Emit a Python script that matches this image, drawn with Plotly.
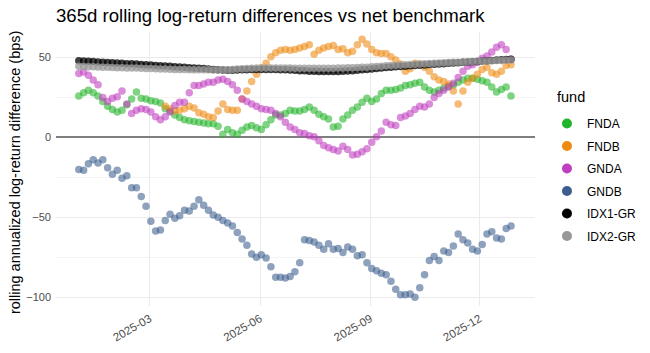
import plotly.graph_objects as go
import pandas as pd

# observation dates (every 4 days through 2025)
dates = pd.date_range("2025-01-01", periods=91, freq="4D")

funds = ["FNDA", "FNDB", "GNDA", "GNDB", "IDX1-GR", "IDX2-GR"]
colors = ["#22B42A", "#EE8A12", "#C03DBF", "#3C5E8E", "#000000", "#999999"]

FNDA = [26, 28, 29.5, 28, 26, 22.5, 19.5, 17.5, 16, 17,
        20.5, 24, 28.5, 24.5, 24, 23, 22.5, 21.5, 18, 16.5,
        14, 12.5, 11, 10.5, 10, 9.5, 9, 8.5, 8.5, 7,
        2, 5, 3, 2, 4.5, 6.5, 7.5, 6, 5, 8,
        11, 14, 14, 15, 17, 16.5, 16.5, 17.5, 19, 17,
        14.5, 13, 11.5, 6.5, 7, 11.5, 14, 17, 19, 22,
        24.5, 22.5, 24, 27.5, 29.5, 29.5, 30, 31, 32.5, 33,
        34, 34.5, 31.5, 29.5, 28.5, 29.5, 31, 32, 32.8, 34.5,
        36, 37, 37, 36.5, 35.5, 34.5, 31.5, 28.5, 30, 31.5,
        26]

FNDB = [None] * 18 + [
        19.5, 18, 16.5, 17, 18, 19.5, 18.5, 15.5, 14.5, 13,
        12.5, 16.5, 21, 17.5, 17, 17, 24, 29, 35, 39.5,
        43.5, 46.5, 50.5, 53, 54.5, 55, 54.5, 55, 56, 57,
        58, 52, 54.5, 56, 57, 57.5, 55, 55.5, 53, 54,
        58, 61.5, 58.5, 55, 53, 52.5, 52.5, 50.5, 48.5, 46,
        41.5, 43, 46.5, 46, 44, 41.5, 38, 36, 35, 33.5,
        29, 21, 29, 34.5, 37, 39.5, 42.5, 44, 40.5, 39.5,
        41.5, 45, 45.5]

GNDA = [40, 41, 39, 36, 33, 25, 22.5, 24.5, 25.5, 29,
        21, 15, 17, 18, 17.5, 16, 13, 11, 13, 16,
        20, 22, 22, 28, 32.5, 32.5, 33.5, 34.5, 34.5, 36,
        36.5, 35, 33, 29.5, 24, 22.5, 21, 19.5, 18, 17.5,
        17, 15, 13, 9.5, 6.5, 5, 3, 2.5, 1, 0.5,
        -2, -5, -6.5, -7.5, -8.5, -5.5, -7.5, -11, -10.5, -9,
        -7, -3, 0.5, 4, 9.5, 8, 7.5, 12.5, 13.5, 15,
        17.5, 19.5, 19, 21, 25, 27.5, 29.5, 31.5, 34, 37.5,
        41.5, 44.5, 45.5, 47, 49.5, 51, 53.5, 56.5, 58, 55,
        49]

GNDB = [-20, -20.5, -16.5, -14, -16, -14, -19, -23, -20.5, -25.5,
        -24, -31.5, -31.5, -37, -43, -52.5, -58.5, -58, -52, -48,
        -50.5, -49, -45.5, -46, -43, -39, -42.5, -45.5, -48.5, -50,
        -52, -53.5, -55.5, -59.5, -63.5, -67.5, -73, -75, -73.5, -75.5,
        -81, -87.5, -87.5, -88, -87, -84, -78.5, -64, -64.5, -65.5,
        -67.5, -70, -66.5, -70, -69.5, -72, -68.5, -70, -74, -73.5,
        -78.5, -82, -83.5, -85, -86, -90, -95, -98.5, -98.5, -98,
        -100, -94, -86, -77, -74.5, -77, -71, -72, -68, -60.5,
        -64, -66, -70, -71, -67, -60.5, -59, -63, -63.5, -57,
        -55.5]

IDX1 = [48, 47.8, 47.7, 47.5, 47.3, 47.1, 46.9, 46.8, 46.6, 46.4,
        46.2, 46.1, 45.9, 45.7, 45.5, 45.3, 45.1, 44.9, 44.7, 44.5,
        44.3, 44.1, 43.9, 43.7, 43.5, 43.3, 43.1, 42.8, 42.6, 42.4,
        42.2, 42.1, 42.1, 42.2, 42.3, 42.4, 42.5, 42.6, 42.6, 42.6,
        42.6, 42.5, 42.4, 42.3, 42.2, 42.0, 41.8, 41.7, 41.5, 41.4,
        41.3, 41.3, 41.2, 41.3, 41.3, 41.4, 41.6, 41.8, 42.0, 42.3,
        42.6, 42.9, 43.2, 43.5, 43.8, 44.0, 44.2, 44.4, 44.6, 44.8,
        45.0, 45.2, 45.4, 45.6, 45.8, 46.0, 46.2, 46.4, 46.6, 46.8,
        47.0, 47.2, 47.4, 47.6, 47.8, 48.0, 48.2, 48.4, 48.6, 48.8,
        49.0]

IDX2 = [44.5, 44.4, 44.3, 44.2, 44.1, 44.0, 43.9, 43.8, 43.7, 43.6,
        43.5, 43.5, 43.4, 43.3, 43.2, 43.1, 43.0, 42.9, 42.8, 42.7,
        42.6, 42.5, 42.5, 42.4, 42.4, 42.3, 42.3, 42.3, 42.2, 42.2,
        42.3, 42.4, 42.6, 42.8, 43.0, 43.2, 43.3, 43.4, 43.5, 43.5,
        43.5, 43.5, 43.5, 43.4, 43.4, 43.3, 43.3, 43.3, 43.3, 43.3,
        43.3, 43.3, 43.3, 43.3, 43.4, 43.5, 43.6, 43.7, 43.8, 43.9,
        44.0, 44.2, 44.4, 44.6, 44.8, 45.0, 45.2, 45.3, 45.5, 45.6,
        45.8, 46.0, 46.1, 46.3, 46.4, 46.6, 46.7, 46.9, 47.0, 47.1,
        47.3, 47.4, 47.5, 47.7, 47.8, 47.9, 48.0, 48.1, 48.2, 48.3,
        48.4]

series = [FNDA, FNDB, GNDA, GNDB, IDX1, IDX2]
alphas = [0.58, 0.58, 0.58, 0.58, 0.75, 0.75]

FONT = "Liberation Sans, Arial, sans-serif"

fig = go.Figure()
for name, col, vals, a in zip(funds, colors, series, alphas):
    fig.add_trace(go.Scatter(
        x=dates, y=vals, mode="markers", name=name, legendgroup=name,
        showlegend=False,
        marker=dict(color=col, size=7.5, opacity=a, line=dict(width=0)),
    ))
for name, col in zip(funds, colors):
    fig.add_trace(go.Scatter(
        x=[None], y=[None], mode="markers", name=name, legendgroup=name,
        showlegend=True,
        marker=dict(color=col, size=10, opacity=1, line=dict(width=0)),
    ))

fig.update_layout(
    width=650, height=353,
    margin=dict(l=56, r=115, t=32, b=47, autoexpand=False),
    paper_bgcolor="white", plot_bgcolor="white",
    font=dict(family=FONT, color="#000000"),
    title=dict(text="365d rolling log-return differences vs net benchmark",
               x=0, xref="paper", xanchor="left",
               y=1 - 15 / 353, yref="container", yanchor="middle",
               font=dict(size=18.6, color="#000000")),
    showlegend=True,
    legend=dict(x=1.025, xanchor="left", y=0.719, yanchor="top",
                font=dict(size=12, color="#000000"),
                tracegroupgap=3.5, itemsizing="trace",
                bgcolor="rgba(0,0,0,0)"),
    annotations=[
        dict(text="rolling annualized log-return difference (bps)",
             xref="paper", yref="paper", x=(15 - 56) / 479, y=0.485,
             textangle=-90, showarrow=False,
             font=dict(size=14.5, color="#000000"),
             xanchor="center", yanchor="middle"),
        dict(text="fund", xref="paper", yref="paper",
             x=(555 - 56) / 479, y=(306 - 97) / 274,
             xanchor="left", yanchor="middle", showarrow=False,
             font=dict(size=14.5, color="#000000")),
    ],
)

fig.update_xaxes(
    type="date", range=["2024-12-13", "2026-01-16"],
    tick0="2025-03-01", dtick="M3", tickformat="%Y-%m",
    tickangle=-30, tickfont=dict(size=11.5, color="#4D4D4D"),
    showgrid=True, gridcolor="#EBEBEB", gridwidth=1.1,
    zeroline=False, showline=False, ticks="", ticklabelstandoff=3,
    automargin=False,
)
fig.update_yaxes(
    range=[-105.5, 66], tickvals=[-100, -50, 0, 50],
    tickfont=dict(size=11, color="#4D4D4D"),
    showgrid=True, gridcolor="#EBEBEB", gridwidth=1.1,
    minor=dict(tickvals=[-75, -25, 25], showgrid=True,
               gridcolor="#F4F4F4", gridwidth=0.8),
    zeroline=True, zerolinecolor="#7F7F7F", zerolinewidth=1.6,
    showline=False, ticks="", ticklabelstandoff=4, automargin=False,
)

fig.write_html("out.html")
